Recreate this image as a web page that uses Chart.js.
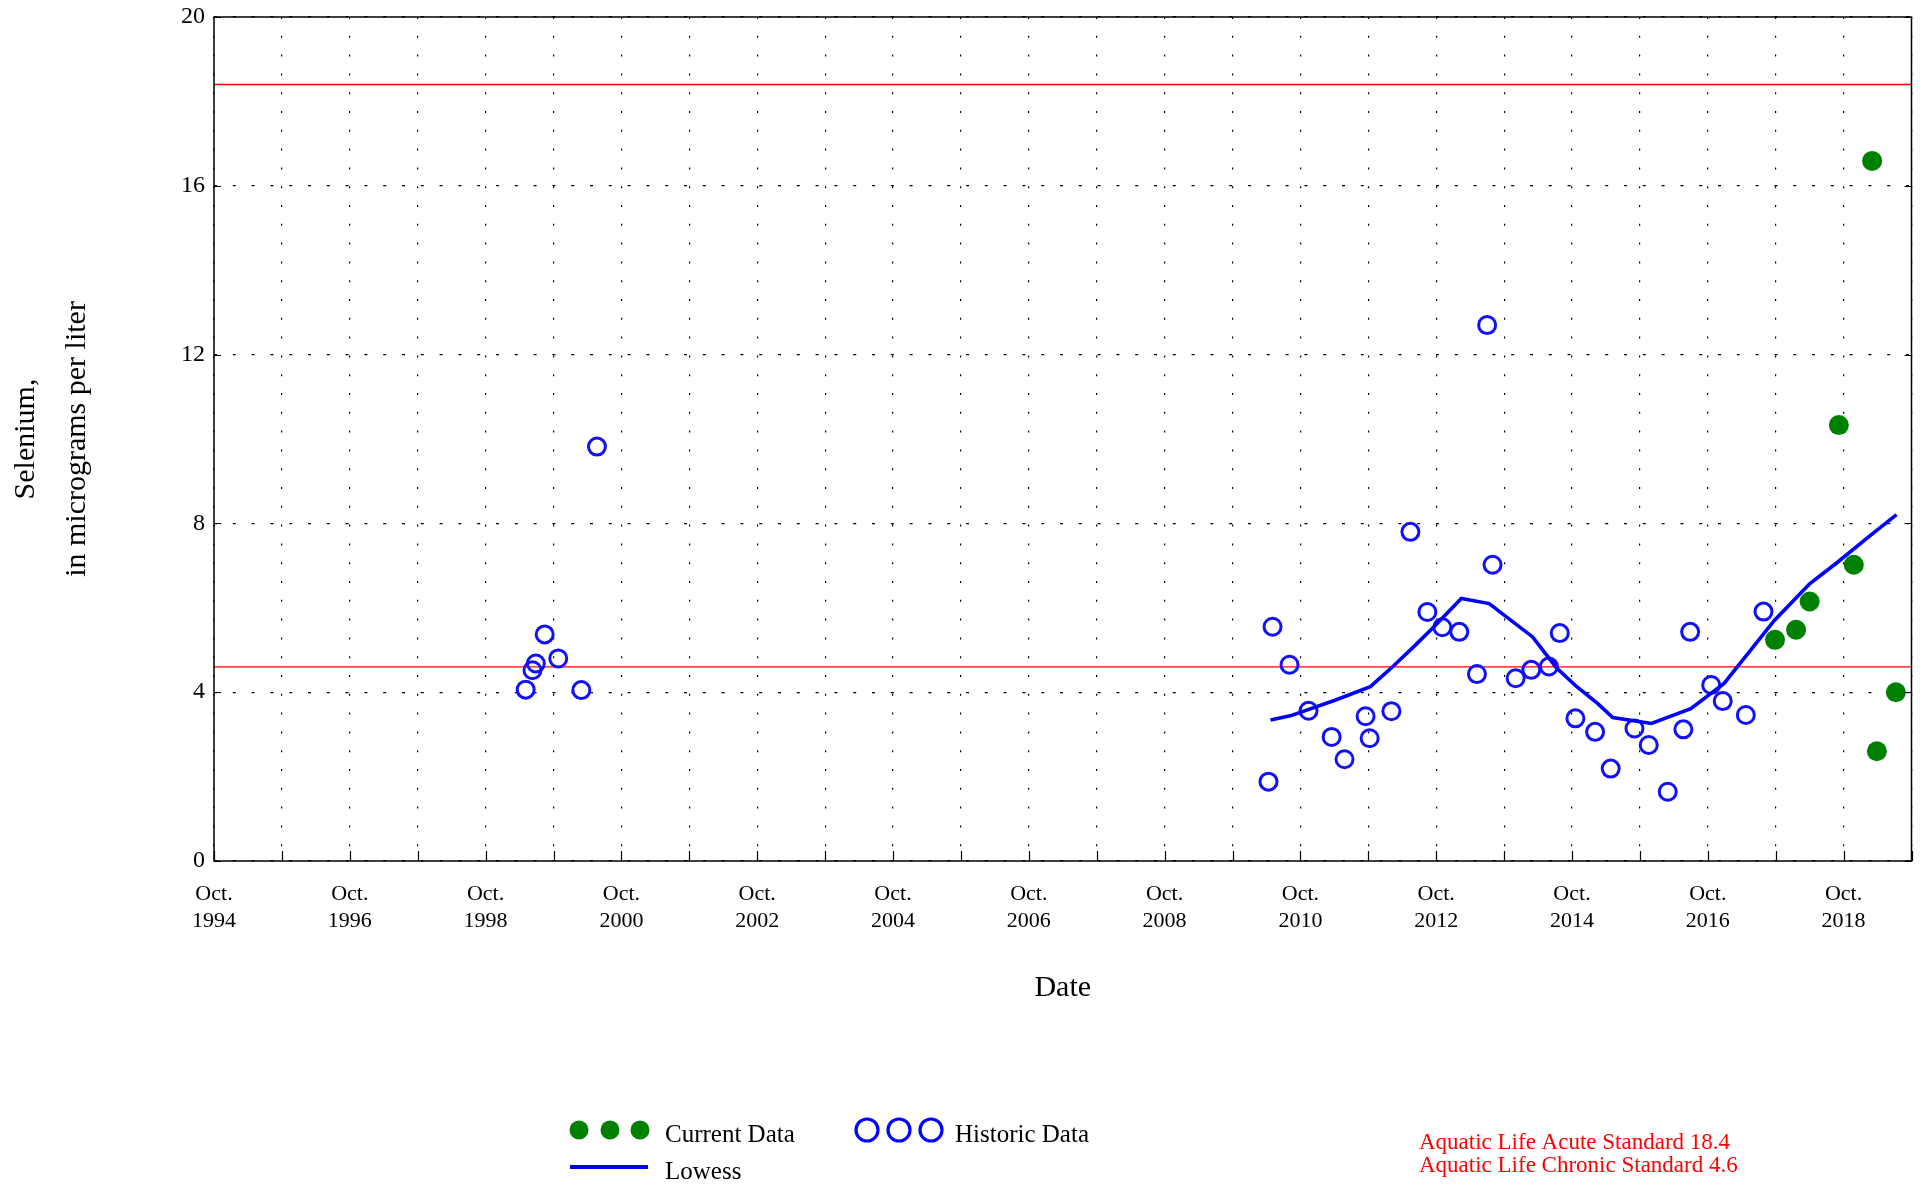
<!DOCTYPE html>
<html>
<head>
<meta charset="utf-8">
<title>Selenium</title>
<script src="https://cdn.jsdelivr.net/npm/chart.js@4.4.0/dist/chart.umd.min.js"></script>
<style>
  html, body { margin: 0; padding: 0; background: #fff; }
  canvas { display: block; }
</style>
</head>
<body>
<canvas id="seleniumChart" width="1923" height="1185"></canvas>
<script>
// dates are decimal years (Oct. 1994 = 1994.75)
const historicDates = [1999.34, 1999.44, 1999.49, 1999.62, 1999.82, 2000.16, 2000.39,
  2010.28, 2010.34, 2010.59, 2010.87, 2011.21, 2011.40, 2011.71, 2011.77, 2012.09,
  2012.37, 2012.62, 2012.84, 2013.09, 2013.35, 2013.50, 2013.58, 2013.92, 2014.15,
  2014.41, 2014.57, 2014.80, 2015.09, 2015.32, 2015.67, 2015.88, 2016.16, 2016.39,
  2016.49, 2016.80, 2016.97, 2017.31, 2017.57];
const historicValues = [4.06, 4.52, 4.68, 5.37, 4.80, 4.05, 9.82,
  1.88, 5.55, 4.65, 3.56, 2.94, 2.41, 3.43, 2.91, 3.55,
  7.80, 5.90, 5.54, 5.43, 4.43, 12.70, 7.02, 4.33, 4.53,
  4.61, 5.40, 3.38, 3.06, 2.19, 3.14, 2.75, 1.64, 3.12,
  5.43, 4.17, 3.79, 3.46, 5.91];

const currentDates = [2017.74, 2018.05, 2018.25, 2018.68, 2018.90, 2019.17, 2019.24, 2019.52];
const currentValues = [5.24, 5.48, 6.15, 10.33, 7.02, 16.59, 2.60, 4.00];

const lowessDates = [2010.31, 2010.60, 2011.26, 2011.78, 2012.12, 2012.42, 2012.71, 2013.12,
  2013.53, 2014.17, 2014.52, 2014.82, 2015.13, 2015.35, 2015.92, 2016.50, 2016.99,
  2017.73, 2018.25, 2018.66, 2019.15, 2019.53];
const lowessValues = [3.34, 3.44, 3.81, 4.13, 4.62, 5.08, 5.54, 6.22,
  6.10, 5.31, 4.58, 4.13, 3.73, 3.40, 3.26, 3.61, 4.21,
  5.70, 6.57, 7.08, 7.72, 8.21];

const acuteStandard = 18.4;
const chronicStandard = 4.6;

const xStart = 1994.75;
const xEnd = 2019.75;
const xTickLabels = ['1994', '', '1996', '', '1998', '', '2000', '', '2002', '', '2004', '',
  '2006', '', '2008', '', '2010', '', '2012', '', '2014', '', '2016', '', '2018', ''];
const yTicks = [0, 4, 8, 12, 16, 20];

const FONT = '"Liberation Serif", "Times New Roman", serif';

function toPoints(xs, ys) {
  return xs.map((x, i) => ({ x: x, y: ys[i] }));
}

// drop the extra room Chart.js keeps for overhanging tick labels
function noScalePadding(scale) {
  scale.paddingTop = 0;
  scale.paddingBottom = 0;
  scale.paddingLeft = 0;
  scale.paddingRight = 0;
}

const decorations = {
  id: 'decorations',
  afterDraw(chart) {
    const ctx = chart.ctx;
    const a = chart.chartArea;
    const xs = chart.scales.x;
    const ys = chart.scales.y;
    ctx.save();

    // frame
    ctx.strokeStyle = '#000';
    ctx.lineWidth = 1.5;
    ctx.strokeRect(a.left, a.top, a.right - a.left, a.bottom - a.top);

    // inward tick marks
    ctx.lineWidth = 1.2;
    ctx.beginPath();
    xs.ticks.forEach(t => {
      const px = Math.round(xs.getPixelForValue(t.value)) + 0.5;
      ctx.moveTo(px, a.bottom);
      ctx.lineTo(px, a.bottom - 10);
    });
    ys.ticks.forEach(t => {
      const py = Math.round(ys.getPixelForValue(t.value)) + 0.5;
      ctx.moveTo(a.left, py);
      ctx.lineTo(a.left + 7, py);
      ctx.moveTo(a.right, py);
      ctx.lineTo(a.right - 7, py);
    });
    ctx.stroke();

    // axis titles
    ctx.fillStyle = '#000';
    ctx.font = '30px ' + FONT;
    ctx.textAlign = 'center';
    ctx.textBaseline = 'middle';
    ctx.fillText('Date', (a.left + a.right) / 2, 988);

    ctx.save();
    ctx.translate(0, (a.top + a.bottom) / 2);
    ctx.rotate(-Math.PI / 2);
    ctx.fillText('Selenium,', 0, 26);
    ctx.fillText('in micrograms per liter', 0, 77);
    ctx.restore();

    // legend
    ctx.fillStyle = '#008000';
    [579, 610, 640].forEach(cx => {
      ctx.beginPath();
      ctx.arc(cx, 1130, 9.5, 0, Math.PI * 2);
      ctx.fill();
    });
    ctx.strokeStyle = '#0000ff';
    ctx.lineWidth = 3.2;
    [867, 899, 931].forEach(cx => {
      ctx.beginPath();
      ctx.arc(cx, 1130, 11, 0, Math.PI * 2);
      ctx.stroke();
    });
    ctx.lineWidth = 4;
    ctx.beginPath();
    ctx.moveTo(570, 1167);
    ctx.lineTo(648, 1167);
    ctx.stroke();

    ctx.fillStyle = '#000';
    ctx.font = '25px ' + FONT;
    ctx.textAlign = 'left';
    ctx.fillText('Current Data', 665, 1135);
    ctx.fillText('Historic Data', 955, 1135);
    ctx.fillText('Lowess', 665, 1172);

    ctx.fillStyle = '#ff0000';
    ctx.font = '23px ' + FONT;
    ctx.fillText('Aquatic Life Acute Standard ' + acuteStandard, 1419, 1143);
    ctx.fillText('Aquatic Life Chronic Standard ' + chronicStandard, 1419, 1166);

    ctx.restore();
  }
};

const ctx = document.getElementById('seleniumChart').getContext('2d');

const seleniumChart = new Chart(ctx, {
  type: 'scatter',
  data: {
    datasets: [
      {
        label: 'Lowess',
        data: toPoints(lowessDates, lowessValues),
        showLine: true,
        borderColor: '#0000ff',
        borderWidth: 3.6,
        pointRadius: 0,
        tension: 0
      },
      {
        label: 'Current Data',
        data: toPoints(currentDates, currentValues),
        backgroundColor: '#008000',
        borderColor: '#008000',
        borderWidth: 0,
        pointRadius: 10
      },
      {
        label: 'Historic Data',
        data: toPoints(historicDates, historicValues),
        backgroundColor: 'rgba(0,0,0,0)',
        borderColor: '#1010ff',
        borderWidth: 3,
        pointRadius: 8.5
      },
      {
        label: 'Aquatic Life Acute Standard',
        data: [{ x: xStart, y: acuteStandard }, { x: xEnd, y: acuteStandard }],
        showLine: true,
        borderColor: '#ff0000',
        borderWidth: 1.3,
        pointRadius: 0
      },
      {
        label: 'Aquatic Life Chronic Standard',
        data: [{ x: xStart, y: chronicStandard }, { x: xEnd, y: chronicStandard }],
        showLine: true,
        borderColor: '#ff0000',
        borderWidth: 1.3,
        pointRadius: 0
      }
    ]
  },
  options: {
    responsive: false,
    animation: false,
    devicePixelRatio: 1,
    layout: { padding: { top: 17, right: 11, left: 0, bottom: 224 } },
    plugins: {
      legend: { display: false },
      tooltip: { enabled: false }
    },
    scales: {
      x: {
        type: 'linear',
        min: xStart,
        max: xEnd,
        afterBuildTicks: scale => {
          scale.ticks = xTickLabels.map((lab, i) => ({ value: xStart + i }));
        },
        afterFit: scale => {
          scale.height = 100;
          noScalePadding(scale);
        },
        ticks: {
          autoSkip: false,
          maxRotation: 0,
          minRotation: 0,
          padding: 19,
          color: '#000',
          font: { family: FONT, size: 22, lineHeight: 1.25 },
          callback: (value, index) => xTickLabels[index] ? ['Oct.', xTickLabels[index]] : ''
        },
        grid: {
          color: '#000',
          lineWidth: 1.2,
          drawTicks: false
        },
        border: { display: false, dash: [2, 16.8] }
      },
      y: {
        min: 0,
        max: 20,
        afterBuildTicks: scale => {
          scale.ticks = yTicks.map(v => ({ value: v }));
        },
        afterFit: scale => {
          scale.width = 214;
          noScalePadding(scale);
        },
        ticks: {
          padding: 9,
          color: '#000',
          font: { family: FONT, size: 24 }
        },
        grid: {
          color: '#000',
          lineWidth: 1.2,
          drawTicks: false
        },
        border: { display: false, dash: [3, 15.8] }
      }
    }
  },
  plugins: [decorations]
});
</script>
</body>
</html>
